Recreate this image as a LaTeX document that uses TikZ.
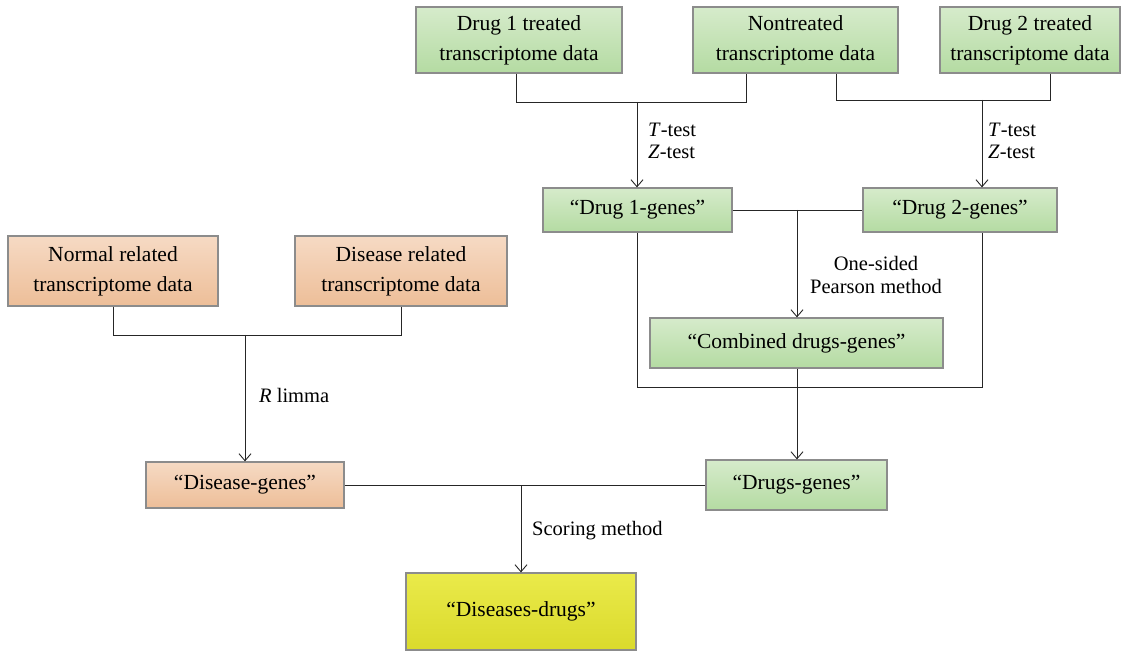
\documentclass[tikz,border=0pt]{standalone}
\usepackage{fontspec}
\setmainfont{Liberation Serif}
\usetikzlibrary{arrows.meta}
\definecolor{gtop}{HTML}{D6EBCB}
\definecolor{gbot}{HTML}{B4DBA2}
\definecolor{otop}{HTML}{F6DAC4}
\definecolor{obot}{HTML}{EDBE98}
\definecolor{ytop}{HTML}{EAEA4A}
\definecolor{ybot}{HTML}{DADA2C}
\definecolor{bord}{HTML}{8C8C8C}
\begin{document}
\begin{tikzpicture}[x=1pt,y=-1pt,
  box/.style={draw=bord,line width=1.2pt,inner sep=0pt,align=center,font=\fontsize{21.5}{30}\selectfont},
  gbox/.style={box,top color=gtop,bottom color=gbot},
  obox/.style={box,top color=otop,bottom color=obot},
  ybox/.style={box,top color=ytop,bottom color=ybot},
  ln/.style={draw=black!85,line width=0.9pt},
  arr/.style={ln,-{Straight Barb[length=7pt,width=12pt,line width=0.9pt]}},
  lbl/.style={font=\fontsize{20.5}{22.5}\selectfont,align=left,inner sep=0pt}
]
\useasboundingbox[fill=white] (0,0) rectangle (1136,652);
% top boxes
\node[gbox,minimum width=206pt,minimum height=66pt] (d1) at (519,40) {Drug 1 treated\\transcriptome data};
\node[gbox,minimum width=205pt,minimum height=66pt] (nt) at (795.5,40) {Nontreated\\transcriptome data};
\node[gbox,minimum width=180pt,minimum height=66pt] (d2) at (1030,40) {Drug 2 treated\\transcriptome data};
% genes
\node[gbox,minimum width=189pt,minimum height=44pt] (g1) at (637.5,210) {``Drug 1-genes''};
\node[gbox,minimum width=194pt,minimum height=44pt] (g2) at (960,210) {``Drug 2-genes''};
\node[gbox,minimum width=293pt,minimum height=50pt] (cg) at (796.5,343) {``Combined drugs-genes''};
\node[gbox,minimum width=181pt,minimum height=50pt] (dg) at (796.5,485) {``Drugs-genes''};
% disease
\node[obox,minimum width=210pt,minimum height=70pt] (nr) at (113,271) {Normal related\\transcriptome data};
\node[obox,minimum width=212pt,minimum height=70pt] (dr) at (401,271) {Disease related\\transcriptome data};
\node[obox,minimum width=198pt,minimum height=46pt] (dsg) at (245,485) {``Disease-genes''};
\node[ybox,minimum width=230pt,minimum height=77pt] (dd) at (521,611.5) {``Diseases-drugs''};
% junction coordinates
\coordinate (j1a) at (516,102);
\coordinate (j1b) at (746,102);
\coordinate (j1) at (637,102);
\coordinate (j2a) at (836,100);
\coordinate (j2b) at (1050,100);
\coordinate (j2) at (982,100);
\coordinate (j3) at (797,210);
\coordinate (j4a) at (637,387);
\coordinate (j4b) at (982,387);
\coordinate (j5a) at (113,335);
\coordinate (j5b) at (401,335);
\coordinate (j5) at (245,335);
\coordinate (j6) at (521,485);
% connectors
\draw[ln] (d1.south -| j1a) -- (j1a) -- (j1b) -- (nt.south -| j1b);
\draw[arr] (j1) -- (g1.north -| j1);
\draw[ln] (nt.south -| j2a) -- (j2a) -- (j2b) -- (d2.south -| j2b);
\draw[arr] (j2) -- (g2.north -| j2);
\draw[ln] (g1.east) -- (g2.west);
\draw[arr] (j3) -- (cg.north -| j3);
\draw[ln] (g1.south -| j4a) -- (j4a) -- (j4b) -- (g2.south -| j4b);
\draw[arr] (cg.south -| j3) -- (dg.north -| j3);
\draw[ln] (nr.south -| j5a) -- (j5a) -- (j5b) -- (dr.south -| j5b);
\draw[arr] (j5) -- (dsg.north -| j5);
\draw[ln] (dsg.east) -- (dg.west);
\draw[arr] (j6) -- (dd.north -| j6);
% labels
\node[lbl,anchor=west] (l1) at (648,141) {\textit{T}-test\\\textit{Z}-test};
\node[lbl,anchor=west] (l2) at (988,141) {\textit{T}-test\\\textit{Z}-test};
\node[lbl,align=center] (l3) at (876,275) {One-sided\\Pearson method};
\node[lbl,anchor=west] (l4) at (259,395) {\textit{R} limma};
\node[lbl,anchor=west] (l5) at (532,531) {Scoring method};
\end{tikzpicture}
\end{document}
